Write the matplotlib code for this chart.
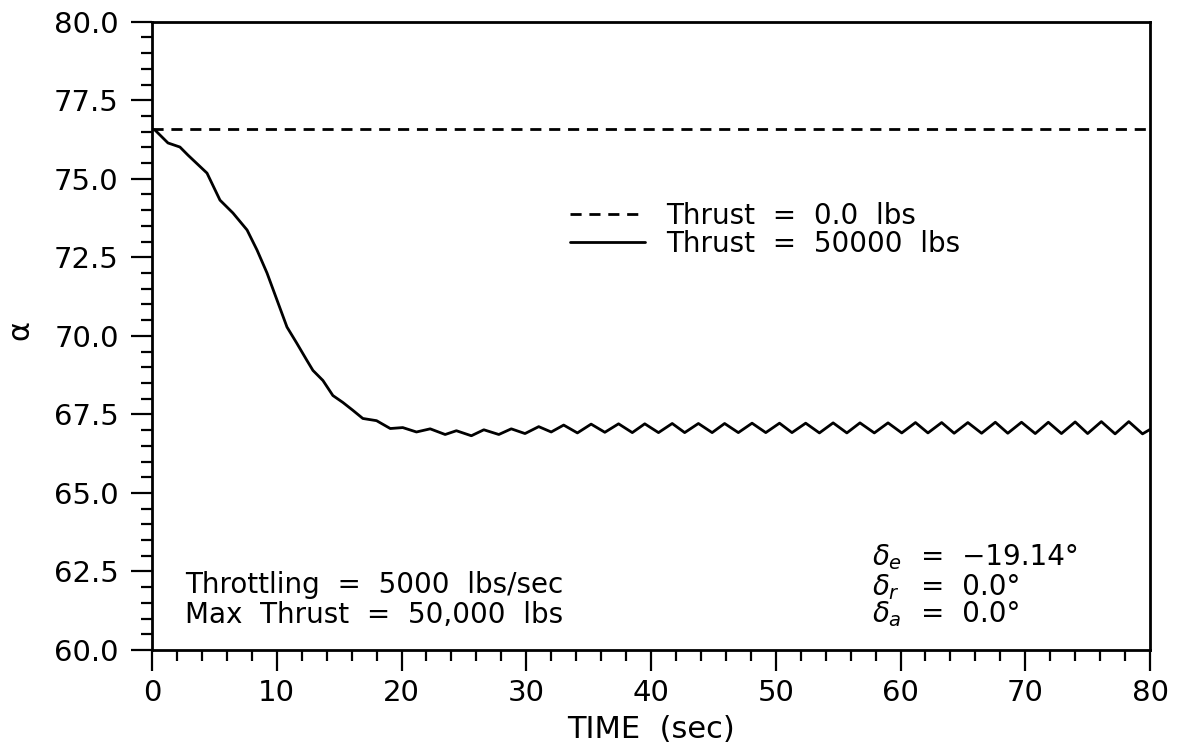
import matplotlib
matplotlib.use("Agg")
import matplotlib.pyplot as plt
from matplotlib.ticker import MultipleLocator, FormatStrFormatter

# ---------------- data ----------------
t_zero = [0.0, 80.0]
alpha_zero = [76.57, 76.57]

t_full = [0.0, 0.24, 1.28, 2.24, 2.89, 4.41, 5.45, 6.49, 7.62, 8.42, 9.22, 10.02,
          10.82, 11.6, 12.4, 12.9, 13.7, 14.5, 15.3, 16.1, 16.9, 18.0, 19.1,
          20.1, 21.2, 22.3, 23.5, 24.4, 25.6, 26.6, 27.8, 28.8, 29.9, 31.0, 32.0,
          33.0, 34.1, 35.2, 36.3, 37.4, 38.5, 39.5, 40.6, 41.7, 42.7, 43.8, 44.9,
          45.9, 47.0, 48.1, 49.2, 50.3, 51.3, 52.4, 53.5, 54.6, 55.7, 56.75, 57.9,
          59.0, 60.1, 61.2, 62.2, 63.3, 64.3, 65.4, 66.5, 67.6, 68.6, 69.7, 70.8,
          71.85, 72.9, 74.0, 75.0, 76.1, 77.2, 78.3, 79.4, 80.0]
alpha_full = [76.57, 76.55, 76.14, 76.01, 75.75, 75.18, 74.32, 73.91, 73.37, 72.73, 72.00, 71.14,
              70.28, 69.77, 69.23, 68.90, 68.58, 68.10, 67.88, 67.63, 67.37, 67.30, 67.05,
              67.08, 66.94, 67.04, 66.86, 66.98, 66.82, 67.01, 66.86, 67.04, 66.89, 67.11, 66.94,
              67.16, 66.91, 67.19, 66.93, 67.20, 66.92, 67.20, 66.92, 67.21, 66.92, 67.21, 66.92,
              67.21, 66.92, 67.22, 66.92, 67.22, 66.92, 67.22, 66.91, 67.23, 66.91, 67.23, 66.91,
              67.23, 66.91, 67.24, 66.91, 67.24, 66.90, 67.24, 66.90, 67.25, 66.90, 67.25, 66.89,
              67.25, 66.89, 67.26, 66.89, 67.27, 66.88, 67.27, 66.88, 67.02]

labels = ["Thrust  =  0.0  lbs", "Thrust  =  50000  lbs"]
note_left = ["Throttling  =  5000  lbs/sec", "Max  Thrust  =  50,000  lbs"]
delta_syms = [r"$\delta_e$", r"$\delta_r$", r"$\delta_a$"]
delta_vals = ["=  \u221219.14\u00b0", "=  0.0\u00b0", "=  0.0\u00b0"]

# ---------------- figure ----------------
plt.rcParams['font.family'] = ['DejaVu Sans']
plt.rcParams['mathtext.fontset'] = 'dejavusans'
FS = 20

fig = plt.figure(figsize=(11.78, 7.53), dpi=100)
ax = fig.add_axes([152/1178, 1 - 650/753, (1150-152)/1178, (650-21.7)/753])

ln_dash, = ax.plot(t_zero, alpha_zero, color='black', lw=2.0, dashes=(4.0, 2.8))
ln_full, = ax.plot(t_full, alpha_full, color='black', lw=2.0,
                   solid_joinstyle='round', solid_capstyle='round')

ax.set_xlim(0, 80)
ax.set_ylim(60, 80)
ax.xaxis.set_major_locator(MultipleLocator(10))
ax.xaxis.set_minor_locator(MultipleLocator(2))
ax.yaxis.set_major_locator(MultipleLocator(2.5))
ax.yaxis.set_minor_locator(MultipleLocator(0.5))
ax.yaxis.set_major_formatter(FormatStrFormatter('%.1f'))

for s in ax.spines.values():
    s.set_linewidth(2.0)

ax.tick_params(which='both', direction='out', top=False, right=False, width=1.6)
ax.tick_params(which='major', length=15, labelsize=FS + 1)
ax.tick_params(axis='x', which='major', pad=6)
ax.tick_params(axis='y', which='major', pad=9)
ax.tick_params(which='minor', length=8)

ax.set_xlabel("TIME  (sec)", fontsize=FS + 2)
ax.xaxis.set_label_coords(0.5, -0.104)
ax.set_ylabel("\u03b1", fontsize=FS + 2)
ax.yaxis.set_label_coords(-0.118, 0.51)

leg = ax.legend([ln_dash, ln_full], labels, loc='upper left',
                bbox_to_anchor=(0.419, 0.713), frameon=False, fontsize=FS,
                handlelength=2.7, handletextpad=0.75, labelspacing=0.0,
                borderpad=0, borderaxespad=0)

ax.text(0.033, 0.0907, note_left[0], transform=ax.transAxes, fontsize=FS, va='baseline')
ax.text(0.033, 0.043, note_left[1], transform=ax.transAxes, fontsize=FS, va='baseline')

base_y = [0.1353, 0.0875, 0.0446]
for sym, val, by in zip(delta_syms, delta_vals, base_y):
    ax.text(0.7214, by, sym, transform=ax.transAxes, fontsize=FS, va='baseline')
    ax.text(0.771, by, val, transform=ax.transAxes, fontsize=FS, va='baseline')

fig.savefig("out.png", dpi=100)
